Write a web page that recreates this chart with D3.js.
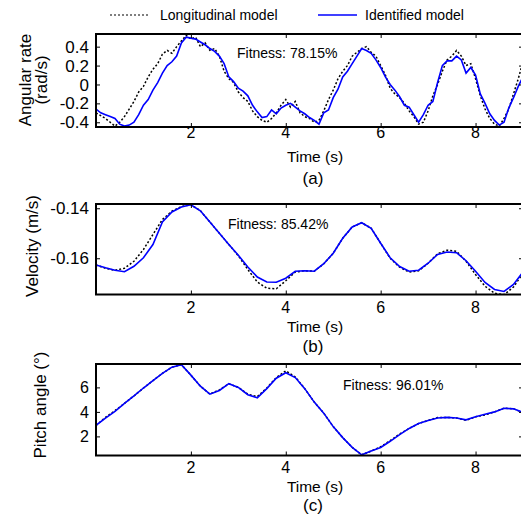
<!DOCTYPE html>
<html>
<head>
<meta charset="utf-8">
<script src="https://cdn.jsdelivr.net/npm/d3@7"></script>
<style>
  body { margin: 0; background: #fff; }
  text { font-family: Arial, 'Liberation Sans', sans-serif; fill: #000; }
</style>
</head>
<body>
<div id="chart"></div>
<script>
// time grids
const tA = d3.range(0, 9.001, 0.1).map(d => +d.toFixed(1));
const tBC = d3.range(0, 9.001, 0.2).map(d => +d.toFixed(1));

// (a) angular rate, rad/s
const rateLong = [-0.30, -0.33, -0.36, -0.40, -0.44, -0.40, -0.34, -0.26, -0.18, -0.08,
  -0.02, 0.08, 0.16, 0.22, 0.32, 0.36, 0.33, 0.40, 0.46, 0.52,
  0.48, 0.50, 0.40, 0.44, 0.36, 0.38, 0.30, 0.14, 0.06, 0.02,
  -0.08, -0.14, -0.18, -0.28, -0.34, -0.38, -0.40, -0.36, -0.30, -0.22,
  -0.16, -0.24, -0.18, -0.30, -0.34, -0.36, -0.40, -0.38, -0.28, -0.16,
  -0.06, 0.06, 0.14, 0.20, 0.30, 0.34, 0.38, 0.40, 0.34, 0.30,
  0.20, 0.10, -0.04, -0.10, -0.14, -0.20, -0.28, -0.34, -0.42, -0.40,
  -0.28, -0.12, 0.00, 0.14, 0.26, 0.30, 0.36, 0.30, 0.20, 0.22,
  0.06, -0.12, -0.26, -0.36, -0.42, -0.44, -0.36, -0.26, -0.10, 0.06, 0.24];
const rateIdent = [-0.26, -0.30, -0.32, -0.34, -0.36, -0.42, -0.44, -0.43, -0.40, -0.32,
  -0.22, -0.16, -0.06, 0.02, 0.12, 0.20, 0.24, 0.30, 0.44, 0.50,
  0.49, 0.48, 0.45, 0.42, 0.38, 0.35, 0.30, 0.22, 0.08, 0.03,
  -0.04, -0.07, -0.12, -0.22, -0.29, -0.35, -0.34, -0.27, -0.31, -0.25,
  -0.22, -0.20, -0.24, -0.28, -0.31, -0.35, -0.38, -0.42, -0.30, -0.27,
  -0.14, -0.05, 0.08, 0.14, 0.22, 0.30, 0.38, 0.36, 0.33, 0.26,
  0.18, 0.08, 0.00, -0.06, -0.13, -0.22, -0.24, -0.32, -0.40, -0.32,
  -0.22, -0.18, 0.02, 0.20, 0.25, 0.25, 0.30, 0.26, 0.12, 0.18,
  0.10, -0.10, -0.20, -0.31, -0.38, -0.43, -0.40, -0.25, -0.14, -0.02, 0.08];

// (b) velocity, m/s
const velLong = [-0.1627, -0.1640, -0.1648, -0.1640, -0.1612, -0.1565, -0.1505, -0.1445, -0.1412, -0.1393,
  -0.1386, -0.1410, -0.1455, -0.1500, -0.1545, -0.1590, -0.1645, -0.1695, -0.1720, -0.1722,
  -0.1690, -0.1655, -0.1650, -0.1652, -0.1622, -0.1580, -0.1520, -0.1475, -0.1458, -0.1480,
  -0.1540, -0.1600, -0.1636, -0.1655, -0.1650, -0.1620, -0.1582, -0.1568, -0.1572, -0.1612,
  -0.1665, -0.1712, -0.1740, -0.1746, -0.1715, -0.1660];
const velIdent = [-0.1627, -0.1638, -0.1648, -0.1654, -0.1632, -0.1598, -0.1545, -0.1455, -0.1415, -0.1395,
  -0.1386, -0.1410, -0.1455, -0.1500, -0.1545, -0.1588, -0.1635, -0.1675, -0.1695, -0.1696,
  -0.1680, -0.1652, -0.1650, -0.1652, -0.1622, -0.1580, -0.1520, -0.1475, -0.1458, -0.1480,
  -0.1540, -0.1598, -0.1633, -0.1652, -0.1648, -0.1620, -0.1585, -0.1575, -0.1578, -0.1610,
  -0.1652, -0.1697, -0.1725, -0.1733, -0.1705, -0.1655];

// (c) pitch angle, deg
const pitchLong = [2.9, 3.55, 4.1, 4.7, 5.3, 5.95, 6.55, 7.15, 7.65, 7.85,
  7.0, 6.1, 5.45, 5.8, 6.3, 6.0, 5.45, 5.25, 5.95, 6.8,
  7.35, 6.85, 5.9, 4.8, 3.9, 2.8, 1.9, 1.1, 0.5, 0.8,
  1.15, 1.65, 2.2, 2.65, 3.05, 3.3, 3.55, 3.55, 3.5, 3.3,
  3.6, 3.75, 4.0, 4.3, 4.25, 3.95];
const pitchIdent = [2.9, 3.5, 4.05, 4.7, 5.3, 5.95, 6.55, 7.15, 7.65, 7.85,
  7.0, 6.1, 5.45, 5.75, 6.3, 6.0, 5.4, 5.15, 5.9, 6.75,
  7.2, 6.8, 5.9, 4.8, 3.9, 2.8, 1.9, 1.1, 0.5, 0.8,
  1.1, 1.6, 2.15, 2.65, 3.05, 3.3, 3.5, 3.55, 3.5, 3.35,
  3.6, 3.8, 4.0, 4.3, 4.25, 3.95];

const xTicks = [2, 4, 6, 8];
const rateTicks = [-0.4, -0.2, 0, 0.2, 0.4];
const velTicks = [-0.16, -0.14];
const pitchTicks = [2, 4, 6];

const width = 521, height = 519;
const left = 96, right = 523;

const svg = d3.select('#chart').append('svg')
  .attr('width', width)
  .attr('height', height);

const x = d3.scaleLinear().domain([0, 9]).range([left, right]);

// plain hyphen minus, like the original figure
const fmt = d => String(d);

const panels = [
  { id: 'a', top: 34, bottom: 127, domain: [-0.45, 0.534], ticks: rateTicks,
    t: tA, long: rateLong, ident: rateIdent, fit: 'Fitness: 78.15%', fitX: 237, fitY: 58,
    title: ['Angular rate', '(rad/s)'], titleX: [25, 41], titleY: 80, tickFont: 17 },
  { id: 'b', top: 204, bottom: 294.5, domain: [-0.1745, -0.1383], ticks: velTicks,
    t: tBC, long: velLong, ident: velIdent, fit: 'Fitness: 85.42%', fitX: 228, fitY: 229,
    title: ['Velocity (m/s)'], titleX: [32], titleY: 246, tickFont: 17 },
  { id: 'c', top: 364, bottom: 455.5, domain: [0.44, 7.91], ticks: pitchTicks,
    t: tBC, long: pitchLong, ident: pitchIdent, fit: 'Fitness: 96.01%', fitX: 343, fitY: 390,
    title: ['Pitch angle (\u00b0)'], titleX: [40], titleY: 405, tickFont: 16 }
];

// baselines: tick labels, "Time (s)", panel letter
const xLabelY = { a: [138, 162, 184], b: [313, 332, 352], c: [473, 492, 511] };

panels.forEach(p => {
  const y = d3.scaleLinear().domain(p.domain).range([p.bottom, p.top]);
  const g = svg.append('g');

  g.append('clipPath').attr('id', 'clip-' + p.id)
    .append('rect')
    .attr('x', left).attr('y', p.top)
    .attr('width', right - left).attr('height', p.bottom - p.top);

  const line = d3.line()
    .x((d, i) => x(p.t[i]))
    .y(d => y(d));

  g.append('path')
    .datum(p.long)
    .attr('clip-path', 'url(#clip-' + p.id + ')')
    .attr('fill', 'none')
    .attr('stroke', '#000')
    .attr('stroke-width', 1.5)
    .attr('stroke-dasharray', '2,2')
    .attr('d', line);

  g.append('path')
    .datum(p.ident)
    .attr('clip-path', 'url(#clip-' + p.id + ')')
    .attr('fill', 'none')
    .attr('stroke', '#0000ff')
    .attr('stroke-width', 1.6)
    .attr('d', line);

  // axes, ticks inward, mirrored on top/right
  g.append('g')
    .attr('transform', 'translate(0,' + p.bottom + ')')
    .call(d3.axisBottom(x).tickValues(xTicks).tickSize(-4).tickFormat(''))
    .call(a => a.select('.domain').remove());
  g.append('g')
    .attr('transform', 'translate(0,' + p.top + ')')
    .call(d3.axisTop(x).tickValues(xTicks).tickSize(-4).tickFormat(''))
    .call(a => a.select('.domain').remove());
  g.append('g')
    .attr('transform', 'translate(' + left + ',0)')
    .call(d3.axisLeft(y).tickValues(p.ticks).tickSize(-4).tickFormat(''))
    .call(a => a.select('.domain').remove());
  g.append('g')
    .attr('transform', 'translate(' + right + ',0)')
    .call(d3.axisRight(y).tickValues(p.ticks).tickSize(-4).tickFormat(''))
    .call(a => a.select('.domain').remove());
  g.selectAll('.tick line').attr('stroke', '#000').attr('stroke-width', 1);

  g.append('rect')
    .attr('x', left).attr('y', p.top)
    .attr('width', right - left).attr('height', p.bottom - p.top)
    .attr('fill', 'none')
    .attr('stroke', '#000')
    .attr('stroke-width', 2);

  // tick labels
  g.selectAll('.ylab').data(p.ticks).enter().append('text')
    .attr('x', 89)
    .attr('y', d => y(d))
    .attr('dy', '0.36em')
    .attr('text-anchor', 'end')
    .style('font-size', p.tickFont + 'px')
    .text(fmt);

  const ly = xLabelY[p.id];
  g.selectAll('.xlab').data(xTicks).enter().append('text')
    .attr('x', d => x(d))
    .attr('y', ly[0])
    .attr('text-anchor', 'middle')
    .style('font-size', '16px')
    .text(d => d);

  g.append('text')
    .attr('x', 315).attr('y', ly[1])
    .attr('text-anchor', 'middle')
    .style('font-size', '15.5px')
    .text('Time (s)');

  g.append('text')
    .attr('x', 313).attr('y', ly[2])
    .attr('text-anchor', 'middle')
    .style('font-size', '17px')
    .text('(' + p.id + ')');

  p.title.forEach((s, i) => {
    g.append('text')
      .attr('transform', 'translate(' + p.titleX[i] + ',' + p.titleY + ') rotate(-90)')
      .attr('dy', '0.35em')
      .attr('text-anchor', 'middle')
      .style('font-size', '17px')
      .text(s);
  });

  g.append('text')
    .attr('x', p.fitX).attr('y', p.fitY)
    .style('font-size', '14px')
    .text(p.fit);
});

// legend
const leg = svg.append('g');
leg.append('line')
  .attr('x1', 110).attr('x2', 150).attr('y1', 15).attr('y2', 15)
  .attr('stroke', '#000').attr('stroke-width', 1.2).attr('stroke-dasharray', '2,2');
leg.append('text').attr('x', 160).attr('y', 20).style('font-size', '14px').text('Longitudinal model');
leg.append('line')
  .attr('x1', 318).attr('x2', 357).attr('y1', 15).attr('y2', 15)
  .attr('stroke', '#0000ff').attr('stroke-width', 1.6);
leg.append('text').attr('x', 365).attr('y', 20).style('font-size', '14px').text('Identified model');
</script>
</body>
</html>
